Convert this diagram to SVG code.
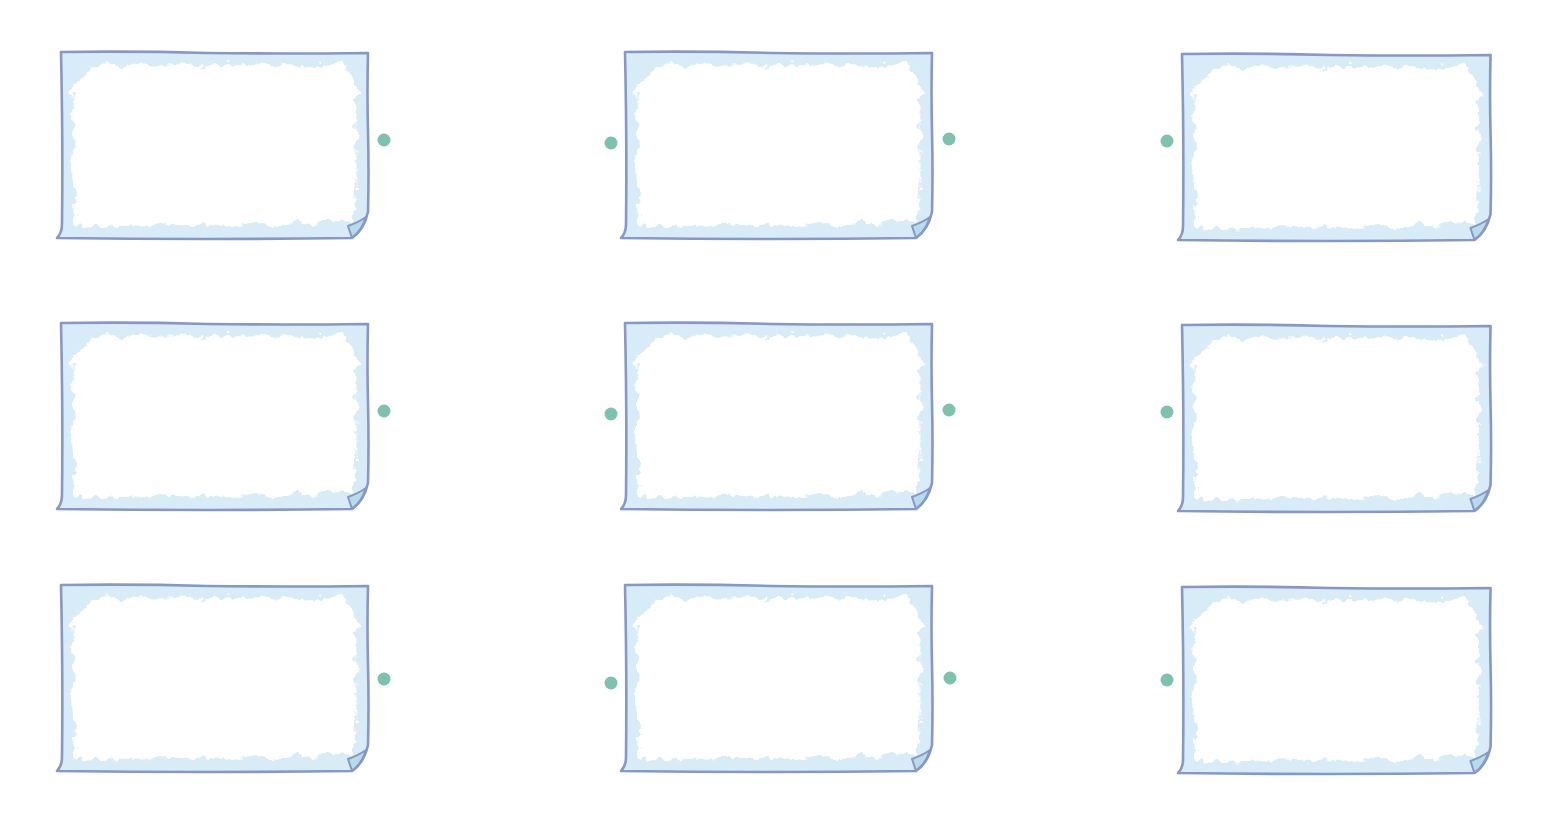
<svg xmlns="http://www.w3.org/2000/svg" xmlns:xlink="http://www.w3.org/1999/xlink" width="1563" height="814" viewBox="0 0 1563 814">
<style>
.edge{fill:none;stroke:#8797c8;stroke-width:2.6;stroke-linejoin:round;stroke-linecap:round}
.paper{fill:#d8ecf8}
.inner{fill:#ffffff}
.fold{fill:#b5dce8;stroke:#8797c8;stroke-width:2;stroke-linejoin:round}
.port{fill:#7cc2ae}
</style>
<defs>
<filter id="rough" x="-5%" y="-5%" width="110%" height="110%">
<feTurbulence type="fractalNoise" baseFrequency="0.09" numOctaves="3" seed="4" result="n"/>
<feDisplacementMap in="SourceGraphic" in2="n" scale="14" xChannelSelector="R" yChannelSelector="G"/>
</filter>
<g id="note">
<path class="paper" d="M4,0 L311,1 L311,160 Q307,178 295,186 L0,186 Q5,181 5,172 Z"/>
<path class="inner" filter="url(#rough)" d="M40,14 C100,10 200,16 290,12 L300,40 C298,90 302,130 296,168 C200,176 120,170 20,176 C16,130 14,80 16,30 Z"/>
<path class="fold" d="M291,174 Q302,170 309,165 Q304,180 295,186 Z"/>
<path class="edge" d="M4,0 Q80,-1 150,1 Q230,2 311,1 Q310,40 311,80 Q312,120 311,160 Q307,178 295,186 Q150,188 0,186 Q5,181 5,172 Q6,90 4,0 Z"/>
</g>
</defs>
<g id="node-1-1"><use xlink:href="#note" transform="translate(57,52)"/></g>
<g id="node-1-2"><use xlink:href="#note" transform="translate(621,52)"/></g>
<g id="node-1-3"><use xlink:href="#note" transform="translate(1178,54) scale(1.005,1)"/></g>
<g id="node-2-1"><use xlink:href="#note" transform="translate(57,323)"/></g>
<g id="node-2-2"><use xlink:href="#note" transform="translate(621,323)"/></g>
<g id="node-2-3"><use xlink:href="#note" transform="translate(1178,325) scale(1.005,1)"/></g>
<g id="node-3-1"><use xlink:href="#note" transform="translate(57,585)"/></g>
<g id="node-3-2"><use xlink:href="#note" transform="translate(621,585)"/></g>
<g id="node-3-3"><use xlink:href="#note" transform="translate(1178,587) scale(1.005,1)"/></g>
<g id="connectors">
<circle class="port" cx="384" cy="140" r="6.5"/>
<circle class="port" cx="611" cy="143" r="6.5"/>
<circle class="port" cx="949" cy="139" r="6.5"/>
<circle class="port" cx="1167" cy="141" r="6.5"/>
<circle class="port" cx="384" cy="411" r="6.5"/>
<circle class="port" cx="611" cy="414" r="6.5"/>
<circle class="port" cx="949" cy="410" r="6.5"/>
<circle class="port" cx="1167" cy="412" r="6.5"/>
<circle class="port" cx="384" cy="679" r="6.5"/>
<circle class="port" cx="611" cy="683" r="6.5"/>
<circle class="port" cx="950" cy="678" r="6.5"/>
<circle class="port" cx="1167" cy="680" r="6.5"/>
</g>
</svg>
